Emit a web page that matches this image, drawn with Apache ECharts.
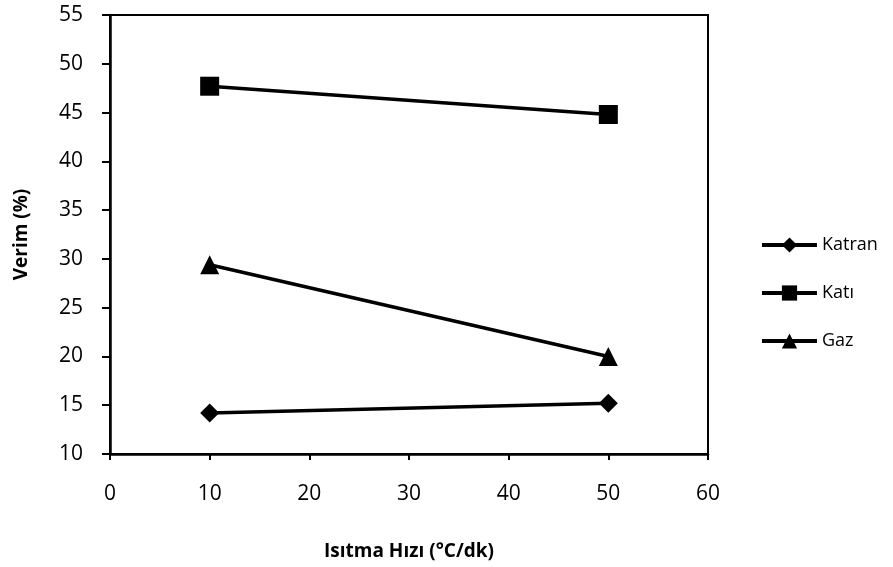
<!DOCTYPE html>
<html>
<head>
<meta charset="utf-8">
<script src="https://cdn.jsdelivr.net/npm/echarts@6/dist/echarts.min.js"></script>
<style>
  html, body { margin: 0; padding: 0; background: #fff; }
  #chart { width: 893px; height: 567px; }
</style>
</head>
<body>
<div id="chart"></div>
<script>
// Heating rate (°C/min) and product yields (%)
const heatingRates = [10, 50];
const katran = [14.2, 15.2];
const kati = [47.7, 44.8];
const gaz = [29.4, 20.0];
const seriesNames = ['Katran', 'Katı', 'Gaz'];
const xTicks = [0, 10, 20, 30, 40, 50, 60];
const yTicks = [10, 15, 20, 25, 30, 35, 40, 45, 50, 55];

const pairs = (ys) => heatingRates.map((x, i) => [x, ys[i]]);
const font = 'Open Sans';

const chart = echarts.init(document.getElementById('chart'), null, { renderer: 'canvas' });

const lineSeries = (name, data, symbol, size) => ({
  name, type: 'line', data: pairs(data),
  symbol, symbolSize: size,
  lineStyle: { color: '#000', width: 3.5 },
  itemStyle: { color: '#000' },
  emphasis: { disabled: true },
  animation: false
});

chart.setOption({
  animation: false,
  grid: {
    left: 110, right: 185, top: 15, bottom: 113,
    show: true, borderColor: '#000', borderWidth: 2, backgroundColor: 'transparent'
  },
  xAxis: {
    type: 'value', min: xTicks[0], max: xTicks[xTicks.length - 1], interval: 10,
    name: 'Isıtma Hızı (°C/dk)', nameLocation: 'middle', nameGap: 88,
    nameTextStyle: { fontFamily: font, fontSize: 19, fontWeight: 'bold', color: '#000' },
    axisLine: { show: true, lineStyle: { color: '#000', width: 2.5 } },
    axisTick: { show: true, length: 6, lineStyle: { color: '#000', width: 2 } },
    axisLabel: { margin: 30, fontFamily: font, fontSize: 21, color: '#000' },
    splitLine: { show: false }
  },
  yAxis: {
    type: 'value', min: yTicks[0], max: yTicks[yTicks.length - 1], interval: 5,
    name: 'Verim (%)', nameLocation: 'middle', nameGap: 79, nameRotate: 90,
    nameTextStyle: { fontFamily: font, fontSize: 19, fontWeight: 'bold', color: '#000' },
    axisLine: { show: true, lineStyle: { color: '#000', width: 2.5 } },
    axisTick: { show: true, length: 8, lineStyle: { color: '#000', width: 2 } },
    axisLabel: { margin: 27, fontFamily: font, fontSize: 21, color: '#000' },
    splitLine: { show: false }
  },
  legend: {
    orient: 'vertical', left: 755, top: 231, itemGap: 30,
    itemWidth: 55, itemHeight: 19,
    data: seriesNames,
    lineStyle: { width: 4 },
    textStyle: { fontFamily: font, fontSize: 18, color: '#000' },
    selectedMode: false
  },
  series: [
    lineSeries(seriesNames[0], katran, 'diamond', 19),
    lineSeries(seriesNames[1], kati, 'rect', 19),
    lineSeries(seriesNames[2], gaz, 'triangle', 19)
  ]
});
</script>
</body>
</html>
